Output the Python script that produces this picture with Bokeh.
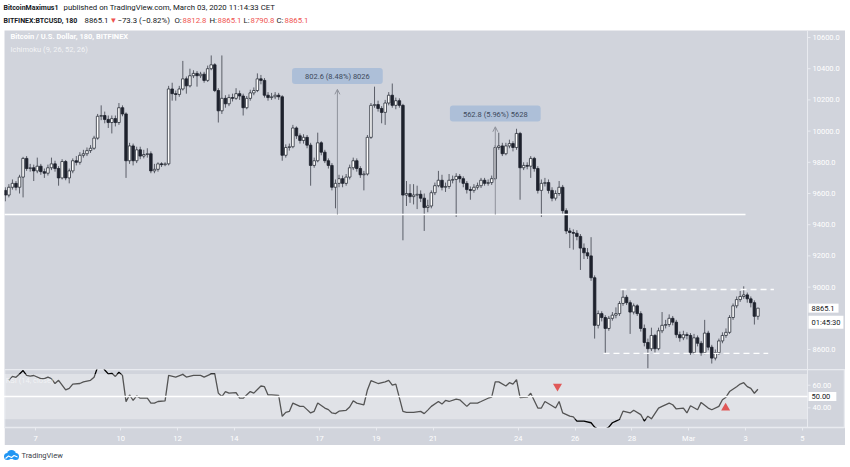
from bokeh.plotting import figure
from bokeh.models import (Range1d, FixedTicker, Label, Span, Spacer,
                          BoxAnnotation, Arrow, OpenHead, ColumnDataSource)
from bokeh.layouts import column, row
from bokeh.embed import file_html
from bokeh.resources import INLINE
from bokeh.core.properties import value

# ---------------- data ----------------
# x = day of month (Feb 2020; Mar 1 = day 30). First 3h candle opens Feb 5, 21:00
first_candle_day = 5.875
candle_days = 0.125

opens = [9620, 9590, 9640, 9665, 9640, 9705, 9825, 9760, 9765, 9745,
         9775, 9740, 9730, 9765, 9790, 9760, 9700, 9805, 9700, 9745,
         9810, 9800, 9845, 9855, 9875, 9890, 9955, 10095, 10100, 10075,
         10055, 10080, 10055, 10150, 10110, 9810, 9905, 9810, 9880, 9840,
         9850, 9855, 9745, 9755, 9790, 9785, 9790, 10270, 10240, 10235,
         10270, 10335, 10290, 10355, 10370, 10355, 10365, 10325, 10400, 10425,
         10260, 10130, 10210, 10175, 10215, 10210, 10240, 10225, 10150, 10210,
         10245, 10260, 10335, 10325, 10230, 10215, 10220, 10230, 10220, 9845,
         9895, 9900, 10020, 9970, 9940, 9960, 9910, 9780, 9810, 9925,
         9865, 9810, 9780, 9640, 9665, 9695, 9665, 9705, 9765, 9810,
         9760, 9720, 9725, 9960, 10165, 10170, 10145, 10120, 10180, 10230,
         10165, 10195, 10165, 9590, 9600, 9580, 9590, 9595, 9570, 9510,
         9520, 9605, 9650, 9685, 9640, 9645, 9685, 9690, 9710, 9695,
         9665, 9625, 9620, 9640, 9650, 9685, 9665, 9670, 9695, 9895,
         9905, 9855, 9905, 9920, 9895, 9985, 9765, 9780, 9775, 9825,
         9760, 9620, 9665, 9670, 9620, 9570, 9600, 9640, 9490, 9360,
         9350, 9345, 9325, 9250, 9220, 9200, 9060, 8755, 8830, 8805,
         8735, 8800, 8820, 8830, 8895, 8935, 8900, 8840, 8880, 8830,
         8735, 8645, 8605, 8690, 8605, 8720, 8755, 8760, 8800, 8775,
         8695, 8675, 8695, 8690, 8580, 8675, 8640, 8580, 8705, 8615,
         8545, 8580, 8655, 8690, 8710, 8805, 8880, 8920, 8940, 8950,
         8925, 8900, 8812.8]

highs = [9640, 9660, 9690, 9680, 9720, 9835, 9840, 9790, 9785, 9830,
         9790, 9760, 9785, 9830, 9810, 9775, 9820, 9815, 9760, 9825,
         9840, 9865, 9880, 9895, 9910, 9970, 10110, 10165, 10125, 10100,
         10100, 10100, 10180, 10165, 10120, 9925, 9920, 9900, 9900, 9880,
         9890, 9870, 9790, 9800, 9800, 9800, 10290, 10310, 10260, 10290,
         10450, 10350, 10400, 10390, 10385, 10380, 10380, 10420, 10485, 10435,
         10275, 10485, 10230, 10235, 10240, 10275, 10260, 10240, 10225, 10265,
         10280, 10370, 10360, 10340, 10250, 10245, 10250, 10245, 10230, 9915,
         9920, 10040, 10030, 9985, 9980, 9975, 9925, 9830, 9990, 9935,
         9880, 9825, 9795, 9690, 9720, 9715, 9725, 9785, 9830, 9825,
         9775, 9745, 9975, 10180, 10285, 10195, 10160, 10200, 10250, 10305,
         10215, 10210, 10175, 9680, 9660, 9660, 9650, 9620, 9600, 9560,
         9620, 9670, 9745, 9720, 9670, 9725, 9715, 9730, 9725, 9710,
         9680, 9645, 9660, 9670, 9700, 9700, 9690, 9715, 9910, 9990,
         9925, 9925, 9945, 9935, 10015, 9995, 9800, 9800, 9840, 9835,
         9775, 9690, 9700, 9690, 9640, 9620, 9680, 9655, 9505, 9380,
         9370, 9365, 9340, 9280, 9250, 9320, 9075, 8850, 8845, 8820,
         8815, 8840, 8870, 8910, 8985, 8950, 8915, 8895, 8890, 8845,
         8760, 8670, 8740, 8700, 8740, 8840, 8790, 8825, 8815, 8790,
         8715, 8720, 8710, 8705, 8700, 8690, 8655, 8790, 8720, 8630,
         8600, 8670, 8710, 8735, 8820, 8895, 8940, 8975, 9005, 8965,
         8940, 8915, 8865.1]

lows = [9550, 9575, 9625, 9620, 9600, 9575, 9745, 9740, 9680, 9730,
        9720, 9700, 9715, 9750, 9740, 9650, 9690, 9685, 9665, 9730,
        9780, 9785, 9830, 9840, 9860, 9880, 9945, 10070, 10050, 10020,
        9985, 10030, 10040, 10095, 9700, 9790, 9780, 9795, 9820, 9825,
        9830, 9730, 9730, 9740, 9770, 9775, 9780, 10195, 10195, 10220,
        10260, 10240, 10280, 10340, 10285, 10340, 10310, 10315, 10390, 10250,
        10055, 10110, 10150, 10160, 10190, 10200, 10200, 10100, 10140, 10195,
        10230, 10250, 10300, 10215, 10195, 10200, 10205, 10200, 9810, 9830,
        9875, 9890, 9950, 9920, 9920, 9890, 9650, 9765, 9800, 9845,
        9795, 9760, 9620, 9505, 9640, 9640, 9650, 9690, 9750, 9740,
        9700, 9620, 9715, 9950, 10150, 10125, 10050, 10040, 10165, 10150,
        10140, 10150, 9300, 9520, 9540, 9530, 9500, 9545, 9360, 9480,
        9505, 9590, 9640, 9620, 9610, 9630, 9665, 9450, 9670, 9640,
        9600, 9560, 9605, 9625, 9635, 9650, 9650, 9655, 9685, 9880,
        9840, 9845, 9890, 9870, 9880, 9560, 9750, 9755, 9700, 9740,
        9600, 9450, 9645, 9600, 9550, 9555, 9585, 9470, 9340, 9250,
        9240, 9300, 9110, 9180, 9180, 9040, 8670, 8735, 8780, 8575,
        8720, 8785, 8800, 8815, 8880, 8885, 8700, 8825, 8815, 8715,
        8620, 8480, 8590, 8580, 8595, 8705, 8735, 8745, 8755, 8675,
        8650, 8660, 8665, 8565, 8570, 8620, 8560, 8570, 8595, 8510,
        8530, 8565, 8640, 8675, 8700, 8790, 8865, 8905, 8925, 8900,
        8870, 8760, 8790.8]

closes = [9590, 9640, 9665, 9640, 9705, 9825, 9760, 9765, 9745, 9775,
          9740, 9730, 9765, 9790, 9760, 9700, 9805, 9700, 9745, 9810,
          9800, 9845, 9855, 9875, 9890, 9955, 10095, 10100, 10075, 10055,
          10080, 10055, 10150, 10110, 9810, 9905, 9810, 9880, 9840, 9850,
          9855, 9745, 9755, 9790, 9785, 9790, 10270, 10240, 10235, 10270,
          10335, 10290, 10355, 10370, 10355, 10365, 10325, 10400, 10425, 10260,
          10130, 10210, 10175, 10215, 10210, 10240, 10225, 10150, 10210, 10245,
          10260, 10335, 10325, 10230, 10215, 10220, 10230, 10220, 9845, 9895,
          9900, 10020, 9970, 9940, 9960, 9910, 9780, 9810, 9925, 9865,
          9810, 9780, 9640, 9665, 9695, 9665, 9705, 9765, 9810, 9760,
          9720, 9725, 9960, 10165, 10170, 10145, 10120, 10180, 10230, 10165,
          10195, 10165, 9590, 9600, 9580, 9590, 9595, 9570, 9510, 9520,
          9605, 9650, 9685, 9640, 9645, 9685, 9690, 9710, 9695, 9665,
          9625, 9620, 9640, 9650, 9685, 9665, 9670, 9695, 9895, 9905,
          9855, 9905, 9920, 9895, 9985, 9765, 9780, 9775, 9825, 9760,
          9620, 9665, 9670, 9620, 9570, 9600, 9640, 9490, 9360, 9350,
          9345, 9325, 9250, 9220, 9200, 9060, 8755, 8830, 8805, 8735,
          8800, 8820, 8830, 8895, 8935, 8900, 8840, 8880, 8830, 8735,
          8645, 8605, 8690, 8605, 8720, 8755, 8760, 8800, 8775, 8695,
          8675, 8695, 8690, 8580, 8675, 8640, 8580, 8705, 8615, 8545,
          8580, 8655, 8690, 8710, 8805, 8880, 8920, 8940, 8950, 8925,
          8900, 8812.8, 8865.1]

# RSI(14): candle index -> value
rsi_idx = [1, 2, 3, 4, 5, 6, 7, 8, 10, 11,
           12, 13, 14, 15, 17, 18, 19, 21, 22, 24,
           25, 26, 27, 28, 29, 30, 31, 32, 33, 34,
           35, 36, 37, 38, 39, 40, 41, 42, 43, 45,
           46, 48, 50, 51, 53, 55, 56, 58, 59, 60,
           61, 62, 63, 65, 66, 67, 69, 70, 72, 73,
           74, 75, 77, 78, 79, 80, 81, 83, 84, 85,
           86, 87, 88, 90, 91, 92, 93, 94, 96, 97,
           98, 99, 101, 102, 103, 105, 107, 108, 109, 110,
           112, 113, 114, 115, 117, 118, 119, 120, 122, 123,
           124, 125, 127, 128, 130, 131, 133, 134, 136, 137,
           138, 139, 141, 142, 143, 144, 145, 147, 148, 150,
           151, 152, 154, 155, 156, 157, 159, 160, 161, 163,
           165, 166, 167, 168, 169, 170, 171, 172, 173, 174,
           176, 177, 179, 180, 181, 182, 184, 185, 187, 188,
           189, 191, 192, 193, 195, 196, 198, 199, 201, 202,
           203, 204, 206, 207, 208, 209, 210, 211, 212]
rsi_val = [64.3, 67.8, 67, 70, 73, 68.7, 68, 68.6, 65.8, 65.8,
           67.2, 65.8, 61.5, 64.3, 55.8, 57.2, 61, 61.5, 63, 64.3,
           67, 76, 78, 73.5, 70, 70.5, 67.8, 71.5, 68.7, 45.5,
           51.4, 46.5, 50.6, 48.5, 48.5, 48.5, 44.2, 44.2, 45.6, 46.2,
           68.7, 67.2, 69.6, 67.2, 68.7, 68.7, 67.2, 70, 70, 53,
           50, 54.4, 53, 53.5, 48.5, 48.5, 54.4, 53, 59.3, 58.7,
           51.4, 51.4, 50.9, 32.5, 36, 36.8, 44.2, 41.3, 41.3, 38.4,
           35.5, 36.9, 44.2, 39.8, 38.4, 35.5, 34.9, 37, 37.8, 40.7,
           46.2, 44.2, 42.7, 55.8, 64, 61.5, 63, 64.3, 60, 61,
           36.9, 36, 36, 36, 36.9, 34.9, 38, 41.3, 45.6, 43.3,
           46.5, 45.6, 47.7, 47.1, 41.3, 44.2, 44.2, 45.6, 48.5, 49.4,
           63, 63, 59.3, 62.2, 61, 65, 49.1, 49.4, 52.9, 39.8,
           39.8, 45.6, 41.8, 39.8, 45.6, 35.5, 32.6, 32, 28.3, 28.3,
           26.8, 23, 21, 21.5, 21, 23, 26.8, 28.3, 29.7, 37,
           35.5, 37.8, 34, 28.3, 32.6, 30.3, 39.8, 41.3, 44.2, 42.7,
           39, 39.8, 35.5, 41.8, 38.3, 44.8, 39.8, 38.3, 41.3, 47.1,
           49.4, 54.4, 58.7, 61, 62.2, 58.7, 57.2, 52.9, 56.4]

support_level = 9465.0
measure_days = [17.63, 23.19]
measure_tops = [10267.6, 10027.8]
measure_texts = ["802.6 (8.48%) 8026", "562.8 (5.96%) 5628"]
range_high = 8985.0
range_high_days = [27.6, 33.0]
range_low = 8575.0
range_low_days = [27.0, 32.8]
support_days = [5.9, 32.0]
signal_down = (25.38, 59.1)
signal_up = (31.30, 40.0)
countdown = "01:45:30"

price_ticks = [8600, 9000, 9200, 9400, 9600, 9800, 10000, 10200, 10400, 10600]
rsi_ticks = [40, 60]
rsi_mid = 50
x_ticks = [7, 10, 12, 14, 17, 19, 21, 24, 26, 28, 30, 32, 34]
x_tick_labels = ["7", "10", "12", "14", "17", "19", "21", "24", "26", "28", "Mar", "3", "5"]

assert len(opens) == len(highs) == len(lows) == len(closes)
assert len(rsi_idx) == len(rsi_val)

# ---------------- style ----------------
PANE_W = 841          # chart panes span page x 4..845
X0 = 5.9085           # time at the left edge of the panes
X_END = 35.521        # time at the right edge (incl. price-scale strip)
X_SEP = 34.183        # where the price-scale strip starts
BG = "#d1d4dc"
SEP = "#e9ebf0"
WICK = "#5b5e68"
UP_LINE = "#2a2e39"
DOWN = "#1e222d"
FONT = "Roboto"
TXT = "#131722"
RED = "#ef5350"
FS = "7.5px"


def day_of(i):
    return first_candle_day + candle_days * (i + 0.5)


def scale_strip(fig, ticks, fmt):
    """Right-hand price scale drawn inside the pane's strip."""
    fig.add_layout(Span(location=X_SEP, dimension="height", line_color=SEP, line_width=1))
    fig.segment(x0=[X_SEP] * len(ticks), y0=ticks, x1=[X_SEP + 0.106] * len(ticks), y1=ticks,
                line_color=SEP, line_width=1)
    fig.text(x=[X_SEP + 0.176] * len(ticks), y=ticks, text=[fmt % t for t in ticks],
             text_font=value(FONT), text_font_size=value(FS), text_color="white",
             text_baseline="middle", text_align="left")


def price_box(fig, y, txt, pad_right=4):
    fig.add_layout(Label(x=X_SEP + 0.035, y=y, text=txt, text_font=FONT, text_font_size=FS,
                         text_color=TXT, text_baseline="middle",
                         background_fill_color="white",
                         padding=dict(left=3, right=pad_right, top=2, bottom=2)))


xs = [day_of(i) for i in range(len(closes))]
is_up = [c >= o for o, c in zip(opens, closes)]
src = ColumnDataSource(dict(
    x=xs,
    top=[max(o, c) for o, c in zip(opens, closes)],
    bottom=[min(o, c) for o, c in zip(opens, closes)],
    high=highs, low=lows,
    fill=["#ffffff" if u else DOWN for u in is_up],
    line=[UP_LINE if u else DOWN for u in is_up],
))

# ---------------- header ----------------
HW = 849
h = figure(width=HW, height=30, x_range=Range1d(0, HW), y_range=Range1d(30, 0),
           x_axis_location=None, y_axis_location=None, toolbar_location=None,
           output_backend="svg", title=None, min_border=0, outline_line_color=None)
h.grid.visible = False
HB = "7px"
HR = "7.8px"
header_runs = [
    ("BitcoinMaximus1", 3, 7, TXT, "bold", HB),
    ("published on TradingView.com, March 03, 2020 11:14:33 CET", 63, 7, TXT, "normal", HR),
    ("BITFINEX:BTCUSD, 180", 3, 20, TXT, "bold", HB),
    ("8865.1", 84, 20, TXT, "normal", HR),
    ("\u25BC", 109, 20, RED, "normal", HR),
    ("\u221273.3 (\u22120.82%)", 117, 20, TXT, "normal", HR),
    ("O:", 174, 20, TXT, "normal", HR),
    ("8812.8", 182, 20, RED, "normal", HR),
    ("H:", 209, 20, TXT, "normal", HR),
    ("8865.1", 217, 20, RED, "normal", HR),
    ("L:", 243, 20, TXT, "normal", HR),
    ("8790.8", 250, 20, RED, "normal", HR),
    ("C:", 276, 20, TXT, "normal", HR),
    ("8865.1", 284, 20, RED, "normal", HR),
]
for txt, xp, yp, col, sty, fs in header_runs:
    h.add_layout(Label(x=xp, y=yp, text=txt, text_font=FONT, text_font_size=fs,
                       text_color=col, text_font_style=sty, text_baseline="middle"))

# ---------------- main price pane ----------------
p = figure(width=PANE_W, height=339, x_range=Range1d(X0, X_END),
           y_range=Range1d(8471.8, 10644.9),
           x_axis_location=None, y_axis_location=None, toolbar_location=None,
           output_backend="svg", title=None, min_border=0)
p.background_fill_color = BG
p.border_fill_color = BG
p.outline_line_color = None
p.grid.visible = False

p.segment(x0="x", y0="low", x1="x", y1="high", source=src, line_color=WICK, line_width=1)
p.vbar(x="x", width=0.09, top="top", bottom="bottom", source=src,
       fill_color="fill", line_color="line", line_width=0.8)

p.line(support_days, [support_level] * 2, line_color="white", line_width=1.6)
p.line(range_high_days, [range_high] * 2, line_color="white", line_width=1.4, line_dash="6 4")
p.line(range_low_days, [range_low] * 2, line_color="white", line_width=1.4, line_dash="6 4")

for d, top, txt in zip(measure_days, measure_tops, measure_texts):
    p.add_layout(Arrow(end=OpenHead(size=5, line_color="#8f929b", line_width=1),
                       x_start=d, y_start=support_level, x_end=d, y_end=top,
                       line_color="#8f929b", line_width=1))
    p.add_layout(Label(x=d, y=top + 85, text=txt, text_align="center", text_baseline="middle",
                       text_font=FONT, text_font_size=FS, text_color="#3d4a5c",
                       background_fill_color="#adbfd8",
                       padding=dict(left=13, right=13, top=4, bottom=3), border_radius=3))

p.add_layout(Label(x=6.12, y=10606, text="Bitcoin / U.S. Dollar, 180, BITFINEX",
                   text_font=FONT, text_font_size=FS, text_font_style="bold",
                   text_color="white", text_baseline="middle"))
p.add_layout(Label(x=6.12, y=10523, text="Ichimoku (9, 26, 52, 26)",
                   text_font=FONT, text_font_size=FS, text_color="white",
                   text_alpha=0.75, text_baseline="middle"))

scale_strip(p, price_ticks, "%.1f")
price_box(p, closes[-1], f"{closes[-1]:.1f}")
price_box(p, closes[-1] - 90, countdown, pad_right=3)

# ---------------- RSI pane ----------------
r = figure(width=PANE_W, height=76, x_range=p.x_range, y_range=Range1d(22.6, 73.9),
           y_axis_location=None, toolbar_location=None, output_backend="svg", title=None,
           min_border_left=0, min_border_right=0, min_border_top=0, min_border_bottom=17)
r.background_fill_color = BG
r.border_fill_color = BG
r.outline_line_color = SEP
r.outline_line_width = 1.5
r.grid.visible = False
rxax = r.xaxis[0]
rxax.ticker = FixedTicker(ticks=x_ticks)
rxax.major_label_overrides = {t: lab for t, lab in zip(x_ticks, x_tick_labels)}
rxax.axis_line_color = None
rxax.major_tick_line_color = SEP
rxax.major_tick_out = 3
rxax.major_tick_in = 0
rxax.minor_tick_line_color = None
rxax.major_label_text_color = "white"
rxax.major_label_text_font = FONT
rxax.major_label_text_font_size = FS
rxax.major_label_standoff = 3

rsi_x = [day_of(i) for i in rsi_idx]
r.line(rsi_x, rsi_val, line_color="black", line_width=1.3)
r.add_layout(BoxAnnotation(left=X0 - 1, right=X_SEP, bottom=30, top=70, fill_color="white",
                           fill_alpha=0.33, line_color=None))
r.line([X0 - 1, X_SEP], [rsi_mid, rsi_mid], line_color="white", line_width=1.6, level="overlay")
r.scatter([signal_down[0]], [signal_down[1]], marker="inverted_triangle", size=9,
          fill_color="#e05858", line_color=None, level="overlay")
r.scatter([signal_up[0]], [signal_up[1]], marker="triangle", size=9,
          fill_color="#e05858", line_color=None, level="overlay")
r.add_layout(Label(x=5.95, y=64.5, text="RSI (14, close)", text_font=FONT, text_font_size=FS,
                   text_color="white", text_alpha=0.6, text_baseline="middle"))
scale_strip(r, rsi_ticks, "%.2f")
price_box(r, rsi_mid, "%.2f" % rsi_mid, pad_right=6)

# ---------------- footer ----------------
f = figure(width=HW, height=21, x_range=Range1d(0, HW), y_range=Range1d(21, 0),
           x_axis_location=None, y_axis_location=None, toolbar_location=None,
           output_backend="svg", title=None, min_border=0, outline_line_color=None)
f.grid.visible = False
f.scatter(x=[7, 11, 15], y=[11, 9, 11], size=[7, 9, 7], marker="circle",
          fill_color="#2196f3", line_color=None)
f.line(x=[5, 8, 11, 13.5, 17], y=[13, 10.5, 12, 10, 11.5], line_color="white", line_width=1.1)
f.add_layout(Label(x=21, y=10, text="TradingView", text_font=FONT, text_font_size=FS,
                   text_color="#3a3e48", text_baseline="middle"))

panes = row(Spacer(width=4, height=415), column(p, r, spacing=0), spacing=0)
layout = column(h, panes, f, spacing=0)
open("out.html", "w").write(file_html(layout, INLINE))
